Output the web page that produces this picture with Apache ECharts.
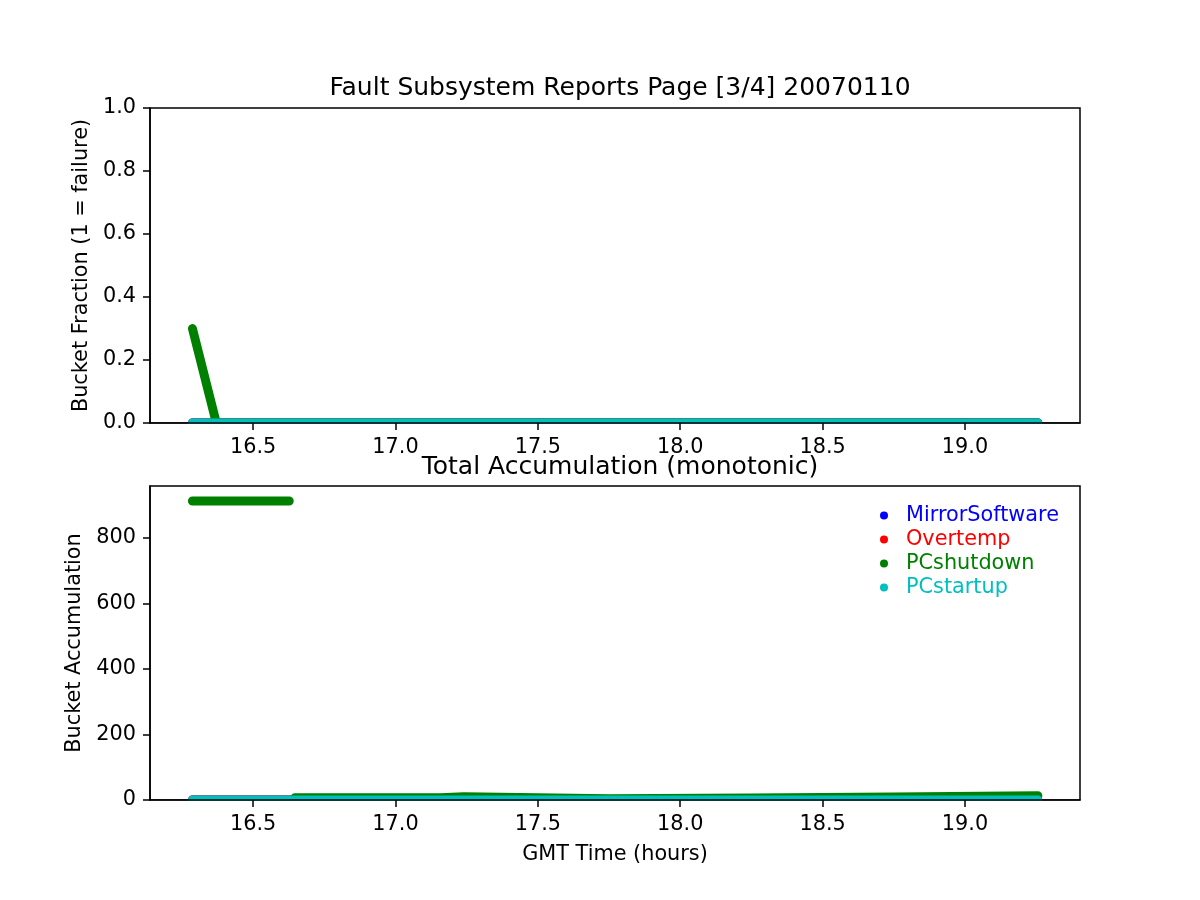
<!DOCTYPE html>
<html><head><meta charset="utf-8">
<script src="https://cdn.jsdelivr.net/npm/echarts@6/dist/echarts.min.js"></script>
<style>html,body{margin:0;padding:0;background:#fff}#c{width:1200px;height:900px}</style>
</head><body><div id="c"></div>
<script>
// ---- data ----
const seriesNames = ['MirrorSoftware', 'Overtemp', 'PCshutdown', 'PCstartup'];
const seriesColors = ['#0000ff', '#ff0000', '#008000', '#00bfbf'];
const xTicks = [16.5, 17.0, 17.5, 18.0, 18.5, 19.0];
const topYTicks = [0, 0.2, 0.4, 0.6, 0.8, 1.0];
const bottomYTicks = [0, 200, 400, 600, 800];
const xRange = [16.138, 19.404];
const topYRange = [0, 1];
const bottomYRange = [0, 958.7];

// Bucket fraction (top panel); '-' marks a break in the trace
const mirrorFraction = [[16.287, 0], [19.256, 0]];
const overtempFraction = [[16.287, 0], [19.256, 0]];
const shutdownFraction = [[16.287, 0.30], [16.371, 0.0], [19.256, 0]];
const startupFraction = [[16.287, 0], [19.256, 0]];

// Bucket accumulation (bottom panel)
const mirrorAccum = [[16.287, 0], [19.256, 0]];
const overtempAccum = [[16.287, 0], [19.256, 0]];
const shutdownAccum = [[16.287, 913], [16.627, 913], '-',
  [16.647, 7], [17.158, 7], [17.158, 10], [17.240, 10], [17.240, 4], [17.750, 4],
  [17.750, 6], [18.250, 6], [18.250, 9], [18.750, 9], [18.750, 13], [19.256, 13]];
const startupAccum = [[16.287, 0], [19.256, 0]];

const fractionData = [mirrorFraction, overtempFraction, shutdownFraction, startupFraction];
const accumData = [mirrorAccum, overtempAccum, shutdownAccum, startupAccum];

// ---- chart ----
const FONT = 'DejaVu Sans';
const FS = 20.8;
const chart = echarts.init(document.getElementById('c'), null, {renderer: 'canvas'});

function xAxisCfg(gridIndex, withName) {
  return {
    type: 'value', gridIndex, min: xRange[0], max: xRange[1], z: 5,
    axisLine: {show: true, onZero: false, lineStyle: {color: '#000', width: 1.5}},
    axisTick: {show: true, length: 7, customValues: xTicks, lineStyle: {color: '#000', width: 1.5}},
    axisLabel: {customValues: xTicks, margin: 14, color: '#000', fontFamily: FONT, fontSize: FS,
      formatter: v => v.toFixed(1)},
    splitLine: {show: false},
    name: withName ? 'GMT Time (hours)' : '',
    nameLocation: 'middle', nameGap: 44,
    nameTextStyle: {color: '#000', fontFamily: FONT, fontSize: FS}
  };
}
function yAxisCfg(gridIndex, range, ticks, name, nameGap, fmt) {
  return {
    type: 'value', gridIndex, min: range[0], max: range[1], z: 5,
    axisLine: {show: true, onZero: false, lineStyle: {color: '#000', width: 1.5}},
    axisTick: {show: true, length: 7, customValues: ticks, lineStyle: {color: '#000', width: 1.5}},
    axisLabel: {customValues: ticks, margin: 14, color: '#000', fontFamily: FONT, fontSize: FS, formatter: fmt},
    splitLine: {show: false},
    name, nameLocation: 'middle', nameGap, nameRotate: 90,
    nameTextStyle: {color: '#000', fontFamily: FONT, fontSize: FS}
  };
}

const series = [];
[fractionData, accumData].forEach((group, gi) => {
  group.forEach((data, si) => {
    series.push({
      type: 'line', name: seriesNames[si], xAxisIndex: gi, yAxisIndex: gi,
      data, showSymbol: false, symbol: 'circle', connectNulls: false, clip: true,
      color: seriesColors[si],
      itemStyle: {color: seriesColors[si]},
      lineStyle: {color: seriesColors[si], width: 9, cap: 'round', join: 'round'},
      silent: true, animation: false, z: 2
    });
  });
});

// white masks below each plot's bottom spine (the library's line clip is padded by half the line width)
const masks = [[150, 423], [150, 800]].map(([x, y]) => ({
  type: 'rect', z: 4, silent: true,
  shape: {x: x - 2, y: y + 0.8, width: 934, height: 7},
  style: {fill: '#fff'}
}));

chart.setOption({
  backgroundColor: '#fff',
  animation: false,
  title: [
    {text: 'Fault Subsystem Reports Page [3/4] 20070110', left: 615, top: 71, textAlign: 'center',
      textStyle: {fontFamily: FONT, fontSize: 25, fontWeight: 'normal', color: '#000'}},
    {text: 'Total Accumulation (monotonic)', left: 615, top: 450, textAlign: 'center',
      textStyle: {fontFamily: FONT, fontSize: 25, fontWeight: 'normal', color: '#000'}}
  ],
  grid: [
    {left: 150, top: 108, width: 930, height: 315, show: true, borderColor: '#000', borderWidth: 1.5, backgroundColor: 'transparent'},
    {left: 150, top: 486, width: 930, height: 314, show: true, borderColor: '#000', borderWidth: 1.5, backgroundColor: 'transparent'}
  ],
  xAxis: [xAxisCfg(0, false), xAxisCfg(1, true)],
  yAxis: [
    yAxisCfg(0, topYRange, topYTicks, 'Bucket Fraction (1 = failure)', 54, v => v.toFixed(1)),
    yAxisCfg(1, bottomYRange, bottomYTicks, 'Bucket Accumulation', 61, v => String(Math.round(v)))
  ],
  graphic: {elements: masks},
  legend: {
    show: true, orient: 'vertical', left: 880, top: 505, padding: 0, icon: 'circle',
    itemWidth: 34, itemHeight: 8, itemGap: 3, selectedMode: false,
    textStyle: {fontFamily: FONT, fontSize: FS, lineHeight: 21},
    data: seriesNames.map((n, i) => ({name: n, textStyle: {color: seriesColors[i]}}))
  },
  series
});
</script>
</body></html>
